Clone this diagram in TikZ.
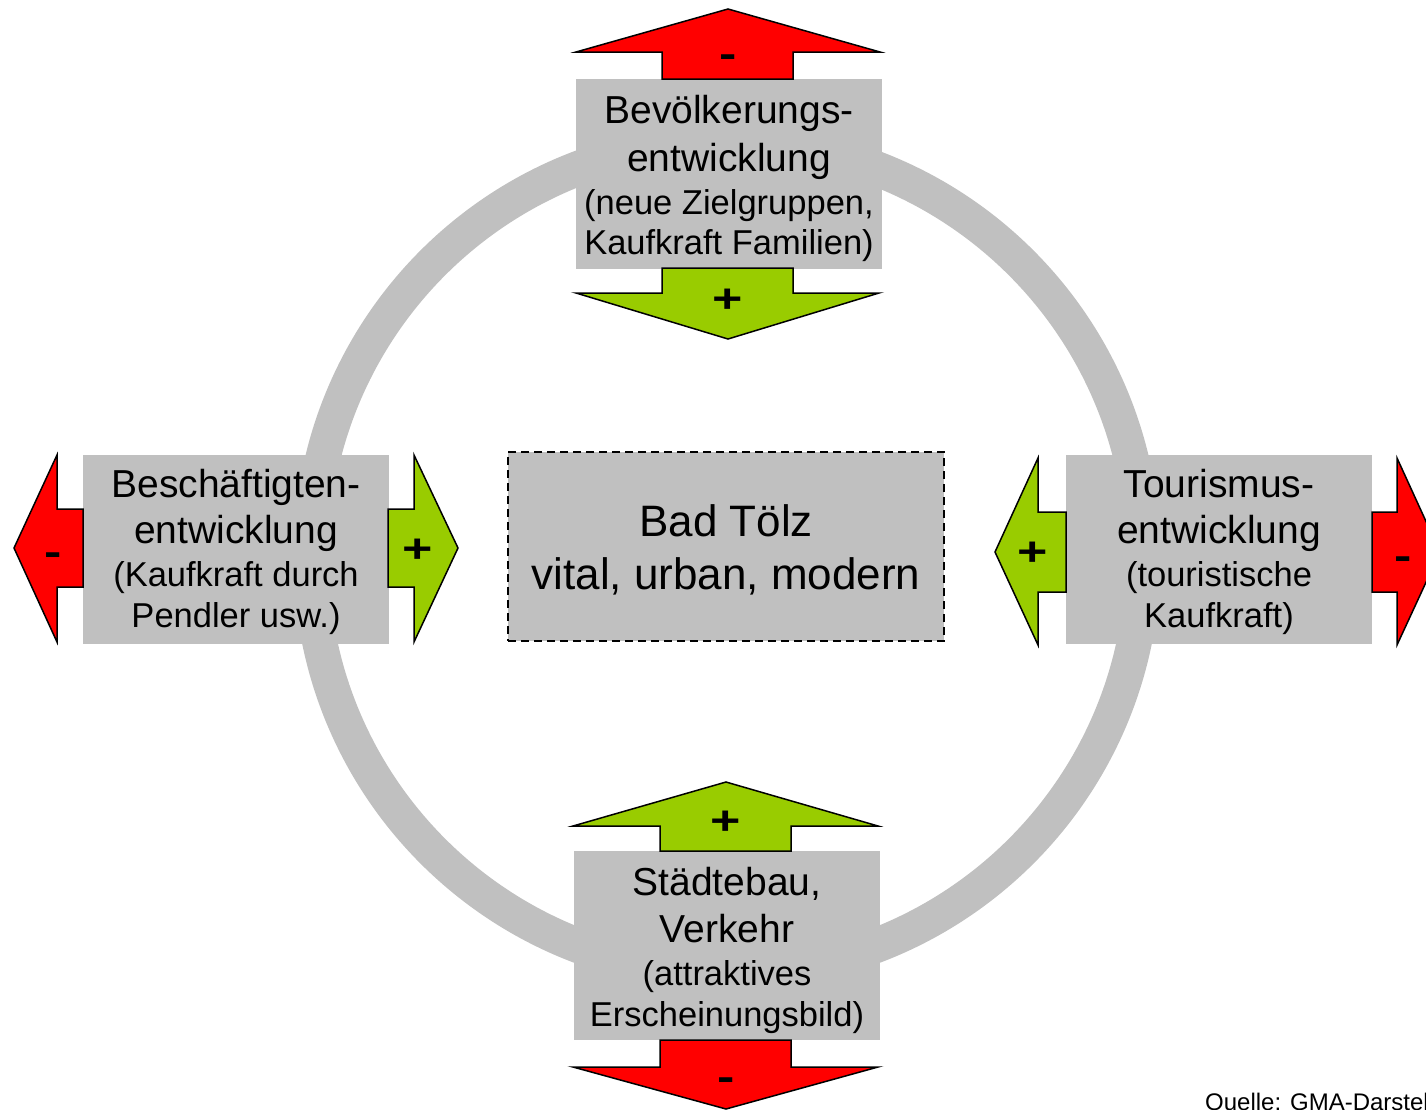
\documentclass[tikz,border=0pt]{standalone}
\usepackage{fontspec}
\setmainfont{Liberation Sans}
\definecolor{ringgray}{RGB}{192,192,192}
\definecolor{boxgray}{RGB}{192,192,192}
\definecolor{arrred}{RGB}{255,0,0}
\definecolor{arrgreen}{RGB}{153,204,0}
\newcommand{\bigline}[1]{{\fontsize{39}{40.5}\selectfont #1}}
\tikzset{
  infobox/.style={fill=boxgray, inner sep=0pt,
    minimum width=306pt, minimum height=189pt},
  boxtext/.style={inner sep=0pt, align=center,
    font=\fontsize{34.5}{40.5}\selectfont},
  centerbox/.style={fill=boxgray, draw=black, line width=2pt,
    dash pattern=on 8pt off 5pt, inner sep=0pt,
    minimum width=436pt, minimum height=189pt},
  centertext/.style={inner sep=0pt, align=center,
    font=\fontsize{44}{53}\selectfont},
  redarrow/.style={fill=arrred, draw=black, line width=1.5pt, line join=miter},
  greenarrow/.style={fill=arrgreen, draw=black, line width=1.5pt, line join=miter},
  sym/.style={inner sep=0pt, font=\fontsize{40}{40}\bfseries\selectfont,
    text height=24pt, text depth=0pt, xscale=1.3},
  srcnote/.style={inner sep=0pt, font=\fontsize{24}{28}\selectfont, anchor=base west}
}
\begin{document}
\begin{tikzpicture}[x=1pt, y=-1pt]
\useasboundingbox (0,0) rectangle (1426,1109);
\clip (0,0) rectangle (1426,1109);
% ring
\node[circle, inner sep=0pt, minimum size=1pt] (ringc) at (727,557) {};
\draw[ringgray, line width=35pt] (ringc.center) circle[radius=416];

% boxes
\node[infobox, minimum height=190pt] (top) at (729,174) {};
\node[boxtext] (topT) at ([yshift=-4.5pt]top.center)
  {\bigline{Bevölkerungs-}\\[7.5pt]\bigline{entwicklung}\\[2pt](neue Zielgruppen,\\Kaufkraft Familien)};
\node[infobox] (left) at (236,549.5) {};
\node[boxtext] (leftT) at ([yshift=-2pt]left.center)
  {\bigline{Beschäftigten-}\\[5.5pt]\bigline{entwicklung}\\[3pt](Kaufkraft durch\\Pendler usw.)};
\node[infobox] (right) at (1219,549.5) {};
\node[boxtext] (rightT) at ([yshift=-2pt]right.center)
  {\bigline{Tourismus-}\\[5.5pt]\bigline{entwicklung}\\[3pt](touristische\\Kaufkraft)};
\node[infobox] (bottom) at (727,945.5) {};
\node[boxtext] (bottomT) at ([yshift=-5pt]bottom.center)
  {\bigline{Städtebau,}\\[6pt]\bigline{Verkehr}\\[3pt](attraktives\\Erscheinungsbild)};
\node[centerbox] (center) at (726,546.5) {};
\node[centertext] (centerT) at ([yshift=-3.5pt]center.center) {Bad Tölz\\vital, urban, modern};

% top arrows
\draw[redarrow] (662,79) -- (662,52) -- (576,52) -- (728,9) -- (880,52) -- (793,52) -- (793,79) -- cycle;
\node[sym] (topminus) at (728,55) {-};
\draw[greenarrow] (662,268) -- (662,293) -- (576,293) -- (728,339) -- (879,293) -- (793,293) -- (793,268) -- cycle;
\node[sym] (topplus) at (728,300) {+};

% left arrows
\draw[redarrow] (83,509) -- (57,509) -- (57,455) -- (14,548) -- (57,642) -- (57,587) -- (83,587) -- cycle;
\node[sym] (leftminus) at (53,553) {-};
\draw[greenarrow] (388,509) -- (414,509) -- (414,455) -- (458,548) -- (414,642) -- (414,587) -- (388,587) -- cycle;
\node[sym] (leftplus) at (418,550) {+};

% right arrows
\draw[greenarrow] (1066,512) -- (1038,512) -- (1038,458) -- (995,552) -- (1038,645) -- (1038,592) -- (1066,592) -- cycle;
\node[sym] (rightplus) at (1033,553) {+};
\draw[redarrow] (1372,512) -- (1397,512) -- (1397,458) -- (1440,552) -- (1397,645) -- (1397,592) -- (1372,592) -- cycle;
\node[sym] (rightminus) at (1403,557) {-};

% bottom arrows
\draw[greenarrow] (660,851) -- (660,826) -- (573,826) -- (726,782) -- (878,826) -- (791,826) -- (791,851) -- cycle;
\node[sym] (bottomplus) at (726,822) {+};
\draw[redarrow] (660,1040) -- (660,1067) -- (573,1067) -- (726,1109) -- (878,1067) -- (791,1067) -- (791,1040) -- cycle;
\node[sym] (bottomminus) at (726,1078) {-};

% source
\node[srcnote] (source) at (1205,1110) {Quelle: GMA-Darstellung};
\end{tikzpicture}
\end{document}
